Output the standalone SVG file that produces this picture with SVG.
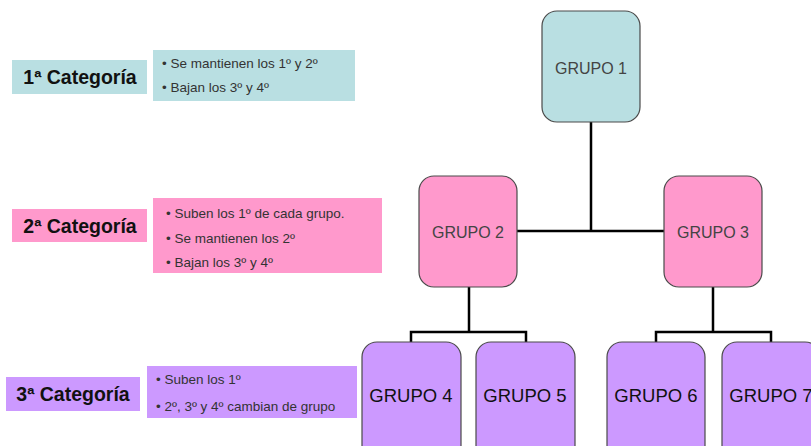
<svg xmlns="http://www.w3.org/2000/svg" width="811" height="446" viewBox="0 0 811 446">
<style>
.teal{fill:#b9dfe2}
.pink{fill:#ff99cc}
.purple{fill:#cc99ff}
.node{stroke:#4a4a4a;stroke-width:1.2}
.cat{font-family:"Liberation Sans",Arial,sans-serif;font-weight:bold;font-size:19.5px;fill:#111;text-anchor:middle}
.bul{font-family:"Liberation Sans",Arial,sans-serif;font-size:13.5px;fill:#333}
.t1{font-family:"Liberation Sans",Arial,sans-serif;font-size:16px;fill:#444;text-anchor:middle}
.t2{font-family:"Liberation Sans",Arial,sans-serif;font-size:18.5px;fill:#111;text-anchor:middle}
.conn{stroke:#000;stroke-width:2.5;fill:none}
</style>
<rect width="811" height="446" fill="#fff"/>
<g id="cat1">
<rect class="teal" x="12" y="60" width="135" height="34"/>
<text class="cat" x="80" y="84">1ª Categoría</text>
<rect class="teal" x="153" y="50" width="202" height="51"/>
<text class="bul" x="162" y="68">• Se mantienen los 1º y 2º</text>
<text class="bul" x="162" y="92">• Bajan los 3º y 4º</text>
</g>
<g id="cat2">
<rect class="pink" x="12" y="209" width="135" height="33"/>
<text class="cat" x="80" y="233">2ª Categoría</text>
<rect class="pink" x="153" y="198" width="229" height="75"/>
<text class="bul" x="166" y="218">• Suben los 1º de cada grupo.</text>
<text class="bul" x="166" y="243">• Se mantienen los 2º</text>
<text class="bul" x="166" y="267">• Bajan los 3º y 4º</text>
</g>
<g id="cat3">
<rect class="purple" x="6" y="377" width="134" height="34"/>
<text class="cat" x="73" y="401">3ª Categoría</text>
<rect class="purple" x="147" y="366" width="210" height="52"/>
<text class="bul" x="156" y="384">• Suben los 1º</text>
<text class="bul" x="156" y="411">• 2º, 3º y 4º cambian de grupo</text>
</g>
<g id="connectors">
<path class="conn" d="M591,122 V231 M517,231 H664"/>
<path class="conn" d="M469,287 V332 M411,342 V332 H526 V342"/>
<path class="conn" d="M713,287 V332 M656,342 V332 H771 V342"/>
</g>
<g id="grupo1"><rect class="teal node" x="542" y="11" width="98" height="111" rx="15"/><text class="t1" x="591" y="74">GRUPO 1</text></g>
<g id="grupo2"><rect class="pink node" x="419" y="176" width="98" height="111" rx="15"/><text class="t1" x="468" y="238">GRUPO 2</text></g>
<g id="grupo3"><rect class="pink node" x="664" y="176" width="98" height="111" rx="15"/><text class="t1" x="713" y="238">GRUPO 3</text></g>
<g id="grupo4"><rect class="purple node" x="362" y="342" width="99" height="120" rx="15"/><text class="t2" x="411" y="402">GRUPO 4</text></g>
<g id="grupo5"><rect class="purple node" x="476" y="342" width="99" height="120" rx="15"/><text class="t2" x="525" y="402">GRUPO 5</text></g>
<g id="grupo6"><rect class="purple node" x="607" y="342" width="98" height="120" rx="15"/><text class="t2" x="656" y="402">GRUPO 6</text></g>
<g id="grupo7"><rect class="purple node" x="722" y="342" width="98" height="120" rx="15"/><text class="t2" x="771" y="402">GRUPO 7</text></g>
</svg>
